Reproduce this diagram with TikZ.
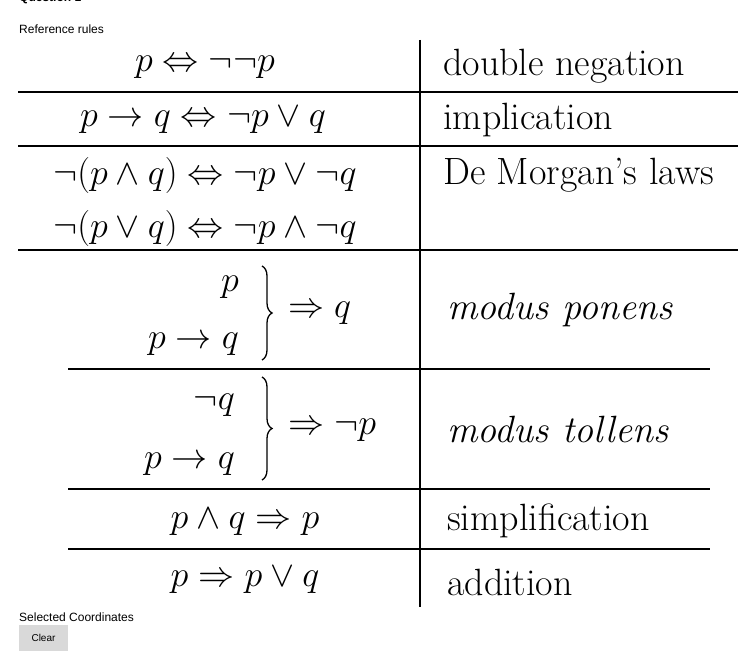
\documentclass[tikz,border=0pt]{standalone}
\usepackage{fontspec}
\setsansfont{Liberation Sans}
\usetikzlibrary{decorations.pathreplacing}
\begin{document}
\begin{tikzpicture}[x=1pt,y=-1pt,
  rule/.style={line width=2pt},
  mth/.style={font=\fontsize{24.88}{30}\selectfont,scale=1.45,transform shape},
  lbl/.style={font=\fontsize{38}{42}\selectfont,anchor=west,inner sep=0},
  small/.style={font=\sffamily\fontsize{12}{14}\selectfont,anchor=west,inner sep=0}]
\useasboundingbox (0,0) rectangle (744,663);
\node[small,font=\sffamily\bfseries\fontsize{12}{14}\selectfont] (q) at (19,-2) {Question 1};
\node[small] (rr) at (19,29) {Reference rules};
% rules
\draw[rule] (420,40) -- (420,607);
\draw[rule] (18,92) -- (738,92);
\draw[rule] (18,146) -- (738,146);
\draw[rule] (18,250) -- (738,250);
\draw[rule] (68,369) -- (710,369);
\draw[rule] (68,489) -- (710,489);
\draw[rule] (68,549) -- (710,549);
% left column
\node[mth] (a) at (205,67) {$p\Leftrightarrow\neg\neg p$};
\node[mth] (b) at (203,120) {$p\rightarrow q\Leftrightarrow\neg p\vee q$};
\node[mth] (c) at (205,175) {$\neg(p\wedge q)\Leftrightarrow\neg p\vee\neg q$};
\node[mth] (d) at (205,228) {$\neg(p\vee q)\Leftrightarrow\neg p\wedge\neg q$};
\node[mth,anchor=east] (e1) at (244,287) {$p$};
\node[mth,anchor=east] (e2) at (244,344) {$p\rightarrow q$};
\draw[line width=1.3pt,decorate,decoration={brace,amplitude=10pt}] (262,266) -- (262,360);
\node[mth,anchor=west] (e3) at (283,313) {$\Rightarrow q$};
\node[mth,anchor=east] (f1) at (240,405) {$\neg q$};
\node[mth,anchor=east] (f2) at (240,464) {$p\rightarrow q$};
\draw[line width=1.3pt,decorate,decoration={brace,amplitude=10pt}] (262,377) -- (262,480);
\node[mth,anchor=west] (f3) at (283,430) {$\Rightarrow\neg p$};
\node[mth] (g) at (245,522) {$p\wedge q\Rightarrow p$};
\node[mth] (h) at (245,580) {$p\Rightarrow p\vee q$};
% right column
\node[lbl] (ra) at (443,66) {double negation};
\node[lbl] (rb) at (443,120) {implication};
\node[lbl] (rc) at (443,175) {De Morgan’s laws};
\node[lbl] (re) at (447,310) {\itshape modus ponens};
\node[lbl] (rf) at (447,430) {\itshape modus tollens};
\node[lbl] (rg) at (447,521) {simplification};
\node[lbl] (rh) at (447,582) {addition};
% footer
\node[small] (sc) at (19,617) {Selected Coordinates};
\node[fill=black!15,minimum width=49pt,minimum height=26pt,font=\sffamily\fontsize{10}{12}\selectfont] (clr) at (43.5,638) {Clear};
\end{tikzpicture}
\end{document}
